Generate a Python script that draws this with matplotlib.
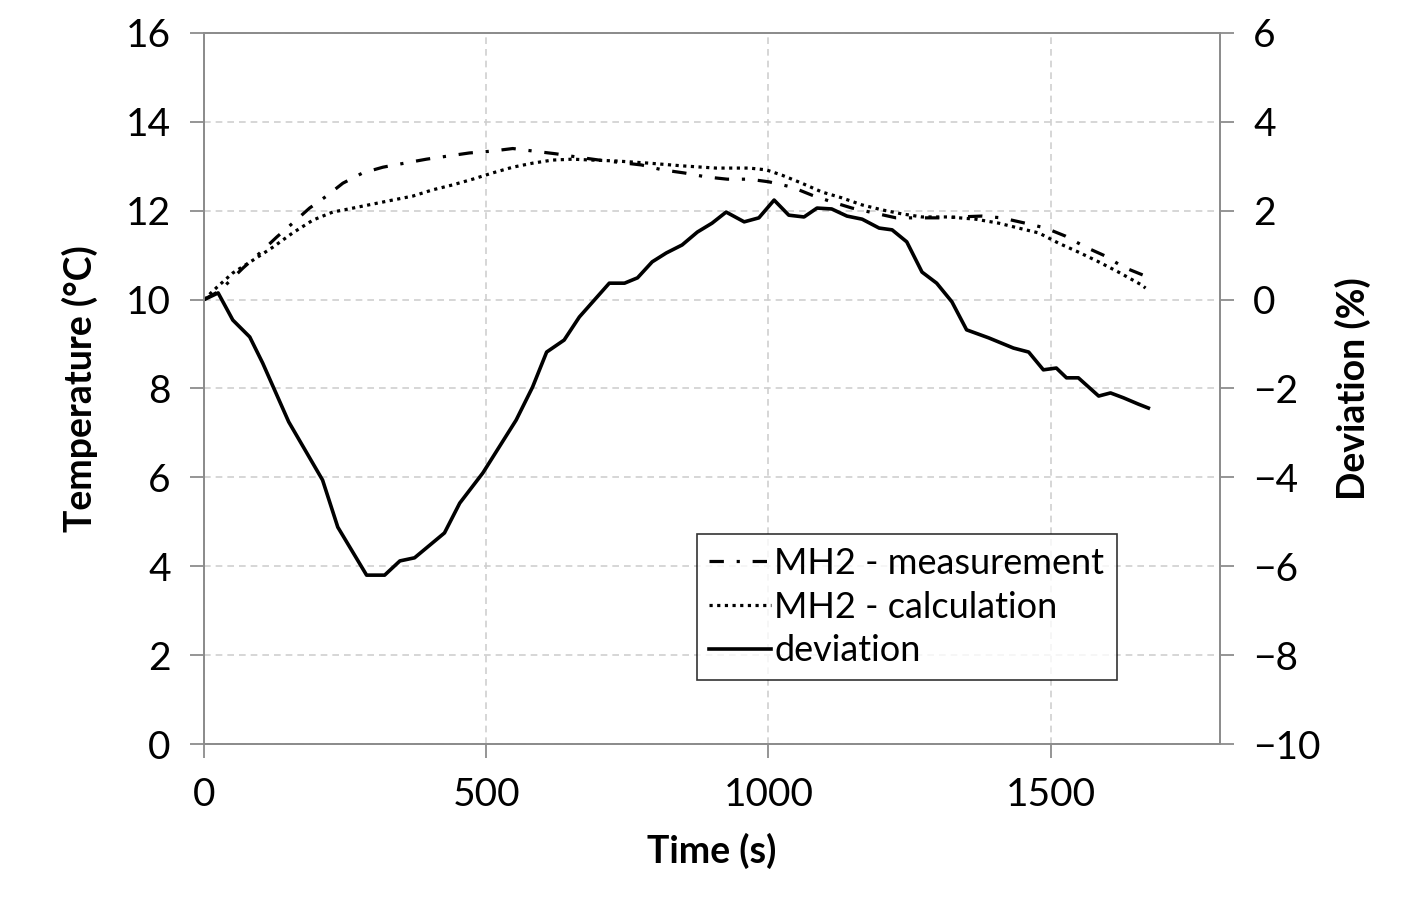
import matplotlib.pyplot as plt

plt.rcParams['font.family'] = ['Lato', 'DejaVu Sans']

# measurement (dash-dot), left axis
t_meas = [0, 28, 69, 99, 129, 157, 187, 217, 246, 281, 317, 355, 394, 432, 470, 509, 547,
          585, 624, 660, 700, 775, 812, 851, 890, 927, 966, 1001, 1042, 1077, 1112, 1148,
          1187, 1226, 1261, 1302, 1337, 1378, 1413, 1455, 1491, 1526, 1562, 1597, 1629, 1664, 1673]
T_meas = [10.0, 10.2, 10.71, 11.05, 11.41, 11.72, 12.06, 12.33, 12.62, 12.85, 12.98, 13.07, 13.16,
          13.23, 13.30, 13.34, 13.40, 13.34, 13.28, 13.21, 13.14, 13.03, 12.92, 12.85, 12.76, 12.71,
          12.71, 12.65, 12.53, 12.35, 12.20, 12.06, 11.95, 11.84, 11.84, 11.84, 11.86, 11.88, 11.84,
          11.72, 11.61, 11.43, 11.18, 10.98, 10.73, 10.55, 10.50]

# calculation (dotted), left axis
t_calc = [0, 23, 51, 87, 122, 157, 193, 228, 264, 299, 334, 370, 405, 440, 476, 511, 547, 582,
          617, 653, 688, 730, 789, 847, 907, 966, 996, 1024, 1059, 1095, 1130, 1166, 1201, 1236,
          1272, 1319, 1367, 1408, 1443, 1479, 1514, 1549, 1585, 1620, 1661, 1668]
T_calc = [10.0, 10.28, 10.6, 10.89, 11.18, 11.5, 11.79, 11.97, 12.06, 12.15, 12.24, 12.33, 12.47,
          12.58, 12.71, 12.85, 12.98, 13.07, 13.14, 13.16, 13.14, 13.12, 13.07, 13.01, 12.96, 12.96,
          12.92, 12.80, 12.62, 12.42, 12.29, 12.13, 12.02, 11.93, 11.86, 11.86, 11.81, 11.72, 11.61,
          11.50, 11.27, 11.07, 10.85, 10.62, 10.33, 10.26]

# deviation (solid), right axis
t_dev = [0, 25, 51, 81, 104, 150, 210, 237, 288, 320, 347, 373, 426, 453, 494, 553, 582, 607,
         638, 665, 718, 745, 768, 794, 819, 847, 874, 900, 925, 957, 983, 1010, 1036, 1063, 1086,
         1112, 1139, 1166, 1196, 1219, 1245, 1272, 1298, 1325, 1351, 1390, 1434, 1461, 1487, 1510,
         1528, 1549, 1585, 1606, 1629, 1655, 1673]
d_dev = [0.0, 0.15, -0.46, -0.84, -1.43, -2.75, -4.06, -5.12, -6.2, -6.2, -5.88, -5.81, -5.25,
         -4.58, -3.9, -2.71, -1.97, -1.18, -0.91, -0.39, 0.37, 0.37, 0.49, 0.85, 1.05, 1.23, 1.52,
         1.72, 1.97, 1.75, 1.84, 2.24, 1.9, 1.86, 2.06, 2.04, 1.88, 1.81, 1.61, 1.57, 1.30, 0.62,
         0.37, -0.05, -0.68, -0.86, -1.09, -1.18, -1.58, -1.54, -1.76, -1.76, -2.17, -2.1, -2.21,
         -2.35, -2.44]

fig = plt.figure(figsize=(14.08, 9.06), dpi=100)
ax = fig.add_axes([0.1449, 0.1788, 0.7216, 0.7848])
ax2 = ax.twinx()

gray = '#8c8c8c'
ax.grid(True, linestyle=(0, (4, 3)), color='#cfcfcf', linewidth=1.2)
ax.set_axisbelow(True)

l1, = ax.plot(t_meas, T_meas, color='black', linewidth=2.3, linestyle=(0, (4.5, 4, 1, 4)))
l2, = ax.plot(t_calc, T_calc, color='black', linewidth=2.3, linestyle=(0, (1, 1.4)))
l3, = ax2.plot(t_dev, d_dev, color='black', linewidth=2.6)

ax.set_xlim(0, 1800)
ax.set_ylim(0, 16)
ax2.set_ylim(-10, 6)
ax.set_xticks([0, 500, 1000, 1500])
ax.set_yticks(range(0, 17, 2))
ax2.set_yticks(range(-10, 7, 2))

for a in (ax, ax2):
    for s in a.spines.values():
        s.set_color(gray)
        s.set_linewidth(1.3)
    a.tick_params(length=10, width=1.3, color=gray, labelsize=28, pad=14)

ax.set_xlabel('Time (s)', fontsize=27, fontweight='bold', labelpad=14)
ax.set_ylabel('Temperature (°C)', fontsize=27, fontweight='bold', labelpad=20)
ax2.set_ylabel('Deviation (%)', fontsize=27, fontweight='bold', labelpad=10)

leg = ax2.legend([l1, l2, l3], ['MH2 - measurement', 'MH2 - calculation', 'deviation'],
                 loc='lower left', bbox_to_anchor=(0.485, 0.09), fontsize=26,
                 frameon=True, fancybox=False, handlelength=1.7, handletextpad=0.1,
                 borderpad=0.35, labelspacing=0.3, borderaxespad=0)
leg.get_frame().set_edgecolor('black')
leg.get_frame().set_linewidth(1.2)

fig.savefig('out.png', dpi=100)
